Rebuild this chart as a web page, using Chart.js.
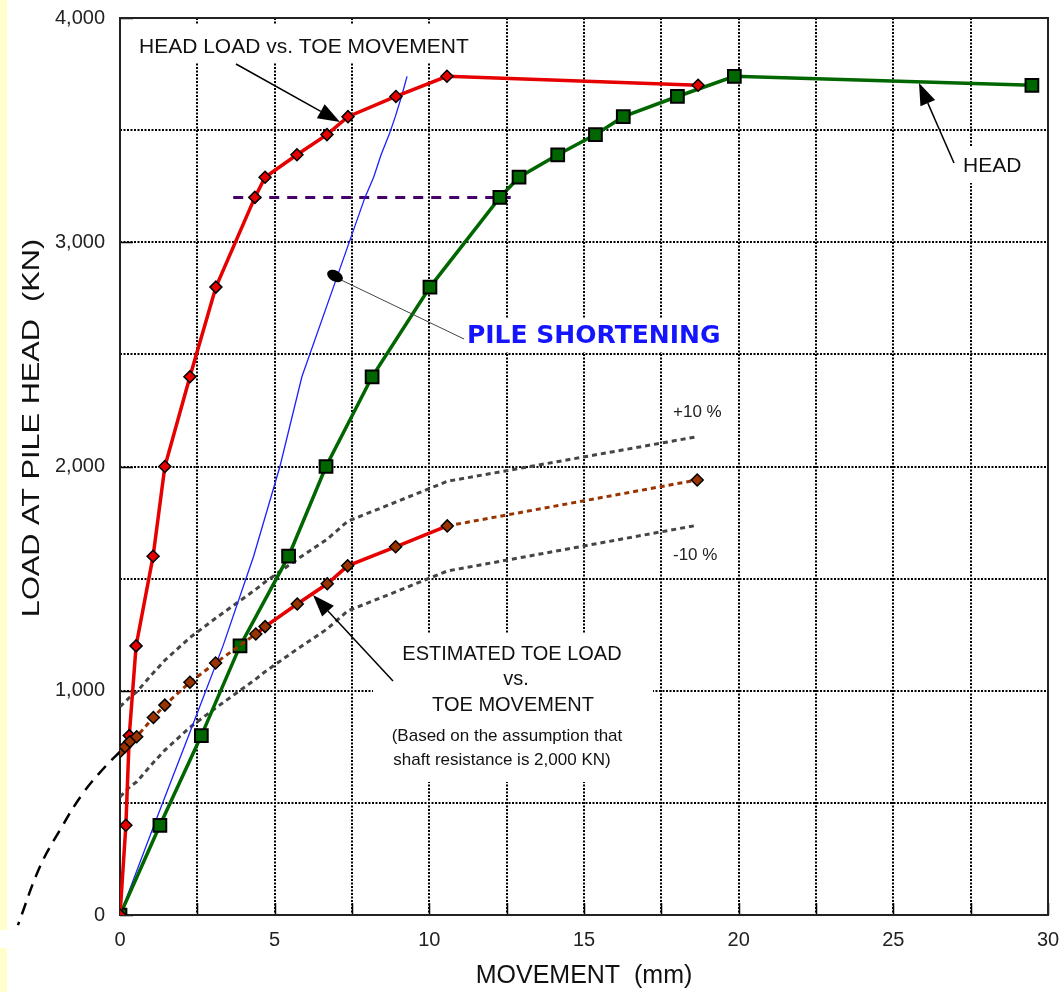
<!DOCTYPE html>
<html>
<head>
<meta charset="utf-8">
<script src="https://cdn.jsdelivr.net/npm/chart.js@4.4.1/dist/chart.umd.min.js"></script>
<style>
  html, body { margin: 0; padding: 0; background: #fff; }
  #wrap { position: relative; width: 1059px; height: 992px; }
  .strip { position: absolute; left: 0; width: 7px; background: #ffffcc; }
  canvas { position: absolute; left: 0; top: 0; }
</style>
</head>
<body>
<div id="wrap">
  <div class="strip" style="top:0;height:930px"></div>
  <div class="strip" style="top:948px;height:44px"></div>
  <canvas id="c" width="1059" height="992"></canvas>
</div>
<script>
/* ===== DATA ===== */
// head load vs. toe movement (red)
const toeMove = [0, 0.19, 0.30, 0.52, 1.07, 1.45, 2.26, 3.10, 4.36, 4.69, 5.72, 6.69, 7.37, 8.92, 10.57, 18.69];
const toeHeadLoad = [0, 400, 800, 1200, 1600, 2000, 2400, 2800, 3200, 3290, 3390, 3480, 3560, 3650, 3740, 3700];

// head load vs. head movement (green)
const headMove = [0, 1.29, 2.63, 3.88, 5.45, 6.66, 8.15, 10.02, 12.28, 12.90, 14.15, 15.37, 16.27, 18.02, 19.86, 29.48];
const headLoad = [0, 400, 800, 1200, 1600, 2000, 2400, 2800, 3200, 3290, 3390, 3480, 3560, 3650, 3740, 3700];

// pile shortening (blue)
const shortMove = [0, 1.10, 2.22, 3.33, 4.32, 5.17, 5.88, 6.90, 7.92, 8.20, 8.44, 8.70, 8.90, 9.10, 9.28];
const shortLoad = [0, 400, 800, 1200, 1600, 2000, 2400, 2800, 3200, 3290, 3390, 3480, 3560, 3650, 3740];

// estimated toe load vs. toe movement, with +10 % / -10 % bands
const estMove = [0, 0.16, 0.32, 0.54, 1.08, 1.45, 2.26, 3.09, 4.39, 4.69, 5.73, 6.70, 7.36, 8.91, 10.58, 18.66];
const estLoad = [728, 750, 773, 795, 881, 936, 1038, 1124, 1253, 1286, 1387, 1477, 1557, 1642, 1735, 1940];
const estUpper = [929, 950, 972, 995, 1080, 1136, 1237, 1323, 1452, 1485, 1586, 1676, 1756, 1841, 1934, 2133];
const estLower = [527, 549, 572, 594, 680, 735, 837, 923, 1052, 1085, 1186, 1276, 1356, 1441, 1534, 1738];

// extrapolation of toe curve below zero movement
const extMove = [0, -0.43, -1.19, -1.94, -2.59, -3.30];
const extLoad = [728, 669, 544, 379, 215, -45];

// 3,200 KN level
const refMove = [3.66, 12.63];
const refLoad = [3200, 3200];

const xLabels = [0, 5, 10, 15, 20, 25, 30];
const yLabels = [0, 1000, 2000, 3000, 4000];

const pts = (xs, ys) => xs.map((x, i) => ({ x, y: ys[i] }));
const FONT = '"Liberation Sans", Arial, sans-serif';

/* ===== ANNOTATIONS ===== */
function arrow(ctx, x1, y1, x2, y2) {
  const ang = Math.atan2(y2 - y1, x2 - x1);
  const len = 22, half = 8;
  const bx = x2 - Math.cos(ang) * len, by = y2 - Math.sin(ang) * len;
  ctx.beginPath();
  ctx.moveTo(x1, y1);
  ctx.lineTo(bx, by);
  ctx.stroke();
  ctx.beginPath();
  ctx.moveTo(x2, y2);
  ctx.lineTo(bx + Math.sin(ang) * half, by - Math.cos(ang) * half);
  ctx.lineTo(bx - Math.sin(ang) * half, by + Math.cos(ang) * half);
  ctx.closePath();
  ctx.fill();
}

const decor = {
  id: "decor",
  beforeDatasetsDraw(chart) {
    const { ctx, chartArea: a, scales: { x, y } } = chart;
    ctx.save();

    // white boxes behind notes
    ctx.fillStyle = "#fff";
    ctx.fillRect(130, 25, 348, 37);
    ctx.fillRect(950, 147, 85, 36);
    ctx.fillRect(460, 318, 275, 34);
    ctx.fillRect(373, 633, 280, 149);

    // inward tick marks
    ctx.strokeStyle = "#000";
    ctx.lineWidth = 1.5;
    ctx.setLineDash([]);
    x.ticks.forEach(t => {
      const px = Math.round(x.getPixelForValue(t.value)) + 0.5;
      ctx.beginPath();
      ctx.moveTo(px, a.bottom);
      ctx.lineTo(px, a.bottom - 12);
      ctx.stroke();
    });
    y.ticks.filter(t => yLabels.includes(t.value)).forEach(t => {
      const py = Math.round(y.getPixelForValue(t.value)) + 0.5;
      ctx.beginPath();
      ctx.moveTo(a.left, py);
      ctx.lineTo(a.left + 13, py);
      ctx.stroke();
    });

    // frame
    ctx.lineWidth = 2;
    ctx.strokeStyle = "#222";
    ctx.strokeRect(a.left, a.top, a.right - a.left, a.bottom - a.top);

    // y axis title (stretched along its length like the original)
    ctx.save();
    ctx.translate(32, 428);
    ctx.rotate(-Math.PI / 2);
    ctx.scale(1.28, 1);
    ctx.fillStyle = "#111";
    ctx.font = `24px ${FONT}`;
    ctx.textAlign = "center";
    ctx.textBaseline = "middle";
    ctx.fillText("LOAD AT PILE HEAD  (KN)", 0, 0);
    ctx.restore();

    // texts
    ctx.fillStyle = "#111";
    ctx.textBaseline = "alphabetic";
    ctx.textAlign = "left";
    ctx.font = `21px ${FONT}`;
    ctx.fillText("HEAD LOAD vs. TOE MOVEMENT", 139, 53);
    ctx.fillText("HEAD", 963, 172);

    ctx.font = `17px ${FONT}`;
    ctx.fillStyle = "#222";
    ctx.fillText("+10 %", 673, 417);
    ctx.fillText("-10 %", 673, 560);

    ctx.textAlign = "center";
    ctx.fillStyle = "#111";
    ctx.font = `20px ${FONT}`;
    ctx.fillText("ESTIMATED TOE LOAD", 512, 660);
    ctx.fillText("vs.", 516, 685);
    ctx.fillText("TOE MOVEMENT", 513, 711);
    ctx.font = `17px ${FONT}`;
    ctx.fillText("(Based on the assumption that", 507, 741);
    ctx.fillText("shaft resistance is 2,000 KN)", 502, 765);

    ctx.textAlign = "left";
    ctx.fillStyle = "#1414ff";
    ctx.font = `bold 25px "DejaVu Sans", sans-serif`;
    ctx.fillText("PILE SHORTENING", 467, 343);
    ctx.restore();
  },
  afterDatasetsDraw(chart) {
    const { ctx } = chart;
    ctx.save();
    ctx.strokeStyle = "#000";
    ctx.fillStyle = "#000";
    ctx.lineWidth = 1.5;
    ctx.setLineDash([]);
    arrow(ctx, 236, 64, 340, 122);
    arrow(ctx, 954, 163, 919, 83);
    arrow(ctx, 393, 681, 313, 595);

    ctx.lineWidth = 1;
    ctx.strokeStyle = "#444";
    ctx.beginPath();
    ctx.moveTo(337, 278);
    ctx.lineTo(464, 339);
    ctx.stroke();
    ctx.beginPath();
    ctx.ellipse(335, 276, 8.5, 5.5, 0.5, 0, Math.PI * 2);
    ctx.fill();
    ctx.restore();
  }
};

/* ===== CHART ===== */
const inSolid = c => c.p0DataIndex >= 8 && c.p1DataIndex <= 14;

new Chart(document.getElementById("c"), {
  type: "scatter",
  data: {
    datasets: [
      {
        label: "Estimated toe load",
        data: pts(estMove, estLoad),
        showLine: true,
        order: 0,
        borderColor: "#993300",
        borderWidth: 3,
        borderDash: [5, 4],
        segment: {
          borderColor: c => inSolid(c) ? "#e60000" : "#993300",
          borderDash: c => inSolid(c) ? [] : [5, 4],
          borderWidth: c => inSolid(c) ? 3.5 : 3
        },
        pointStyle: "rectRot",
        pointRadius: 6,
        pointBackgroundColor: "#993300",
        pointBorderColor: "#000",
        pointBorderWidth: 1.5
      },
      {
        label: "Head load vs. toe movement",
        data: pts(toeMove, toeHeadLoad),
        showLine: true,
        order: 1,
        borderColor: "#e60000",
        borderWidth: 3.5,
        pointStyle: "rectRot",
        pointRadius: 6,
        pointBackgroundColor: "#e60000",
        pointBorderColor: "#000",
        pointBorderWidth: 1.5
      },
      {
        label: "Head",
        data: pts(headMove, headLoad),
        showLine: true,
        order: 2,
        borderColor: "#006600",
        borderWidth: 3.5,
        pointStyle: "rect",
        pointRadius: 9,
        pointBackgroundColor: "#006600",
        pointBorderColor: "#000",
        pointBorderWidth: 2
      },
      {
        label: "Pile shortening",
        data: pts(shortMove, shortLoad),
        showLine: true,
        order: 3,
        borderColor: "#1e1eff",
        borderWidth: 1.3,
        pointRadius: 0
      },
      {
        label: "+10 %",
        data: pts(estMove, estUpper),
        showLine: true,
        order: 4,
        borderColor: "#454545",
        borderWidth: 3,
        borderDash: [5, 4],
        pointRadius: 0
      },
      {
        label: "-10 %",
        data: pts(estMove, estLower),
        showLine: true,
        order: 4,
        borderColor: "#454545",
        borderWidth: 3,
        borderDash: [5, 4],
        pointRadius: 0
      },
      {
        label: "3200",
        data: pts(refMove, refLoad),
        showLine: true,
        order: 5,
        borderColor: "#46006a",
        borderWidth: 3,
        borderDash: [10, 8],
        pointRadius: 0
      },
      {
        label: "extrapolation",
        data: pts(extMove, extLoad),
        showLine: true,
        order: 6,
        clip: false,
        tension: 0.4,
        borderColor: "#000",
        borderWidth: 2.5,
        borderDash: [12, 8],
        pointRadius: 0
      }
    ]
  },
  options: {
    responsive: false,
    animation: false,
    devicePixelRatio: 1,
    layout: { padding: { top: 18, right: 11, left: 0, bottom: 0 } },
    plugins: { legend: { display: false }, tooltip: { enabled: false } },
    scales: {
      x: {
        type: "linear",
        min: 0,
        max: 30,
        afterFit: s => { s.height = 77; s.paddingLeft = 0; s.paddingRight = 0; },
        ticks: {
          stepSize: 2.5,
          autoSkip: false,
          maxRotation: 0,
          padding: 13,
          color: "#222",
          font: { size: 20, family: FONT },
          callback: v => xLabels.includes(v) ? String(v) : ""
        },
        grid: { color: "#000", lineWidth: 2, drawTicks: false },
        border: { display: false, dash: [2, 1.5] },
        title: {
          display: true,
          text: "MOVEMENT  (mm)",
          color: "#111",
          font: { size: 25, family: FONT },
          padding: { top: 0, bottom: 1 }
        }
      },
      y: {
        type: "linear",
        min: 0,
        max: 4000,
        afterFit: s => { s.width = 120; s.paddingTop = 0; s.paddingBottom = 0; },
        ticks: {
          stepSize: 500,
          autoSkip: false,
          padding: 15,
          color: "#222",
          font: { size: 20, family: FONT },
          callback: v => yLabels.includes(v) ? v.toLocaleString("en-US") : ""
        },
        grid: { color: "#000", lineWidth: 2, drawTicks: false },
        border: { display: false, dash: [2, 1.5] },
        title: { display: false }
      }
    }
  },
  plugins: [decor]
});
</script>
</body>
</html>
